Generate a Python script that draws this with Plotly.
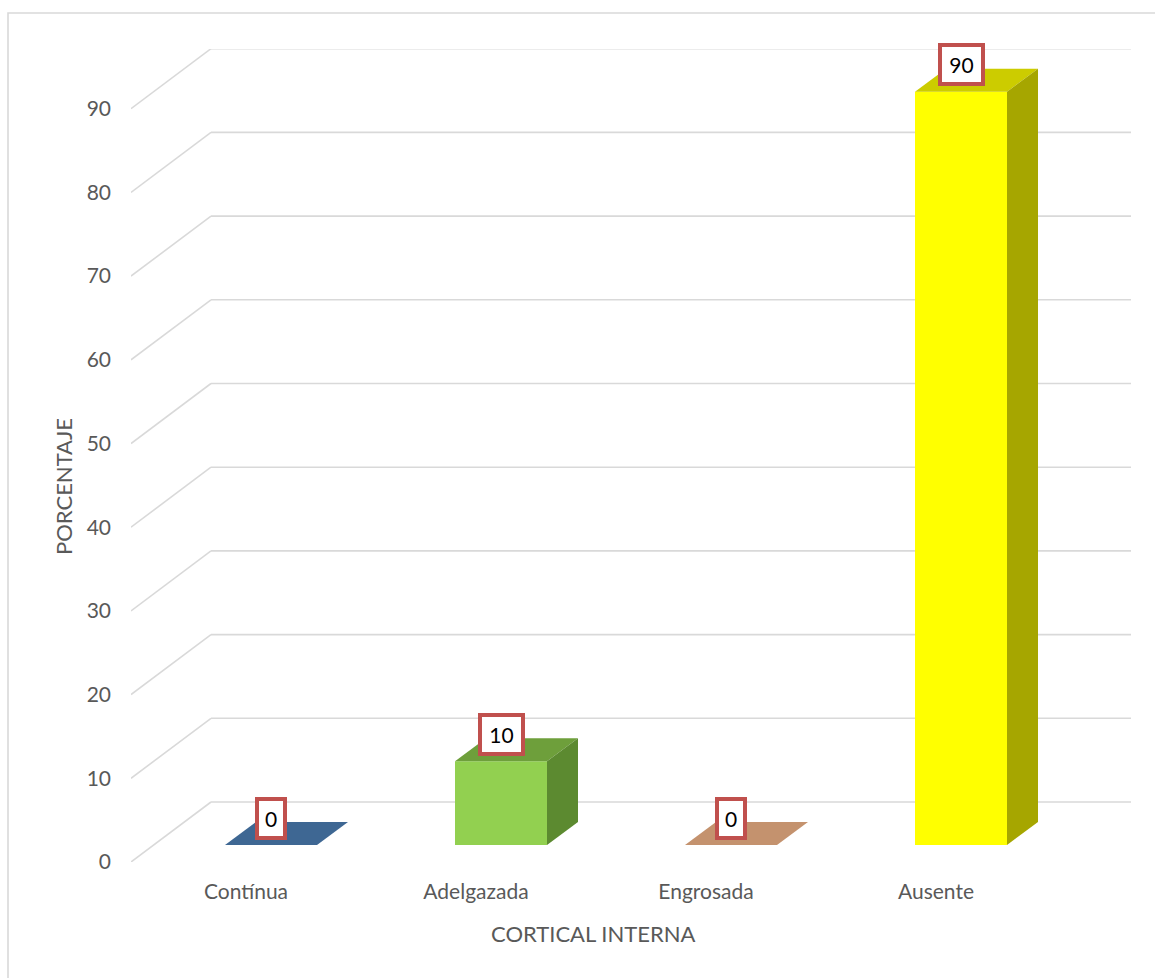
import plotly.graph_objects as go

# ---------------- data ----------------
categories = ["Contínua", "Adelgazada", "Engrosada", "Ausente"]
values = [0, 10, 0, 90]
y_ticks = [0, 10, 20, 30, 40, 50, 60, 70, 80, 90]
front_colors = ["#4F81BD", "#92D050", "#E0A882", "#FFFF00"]
top_colors = ["#3E6793", "#6E9F3B", "#C4926E", "#CCCC00"]
side_colors = ["#345884", "#5C8A30", "#A67A59", "#A6A600"]
x_title = "CORTICAL INTERNA"
y_title = "PORCENTAJE"

# ---------------- geometry (pixels -> data units) ----------------
W, H = 1155, 978
ML, MR, MT, MB = 131, 24, 49, 116
PX_CAT = 230.0      # pixels per category
PX_UNIT = 8.37      # pixels per percent
plot_w = W - ML - MR
plot_h = H - MT - MB
x_range = [-0.5, -0.5 + plot_w / PX_CAT]
y_range = [0, plot_h / PX_UNIT]

wall_dx, wall_dy = 80 / PX_CAT, 60 / PX_UNIT      # depth of the back wall
bar_ox, bar_oy = 25 / PX_CAT, 17 / PX_UNIT        # bar front plane offset
bar_w = 92 / PX_CAT
bar_ddx, bar_ddy = 31 / PX_CAT, 23 / PX_UNIT      # bar depth

FONT = "Lato"
GRAY = "#595959"
GRID = "#D9D9D9"

fig = go.Figure()

# front faces as bars
for k, (cat, v) in enumerate(zip(categories, values)):
    fig.add_trace(go.Bar(
        x=[k + bar_ox], y=[v], base=bar_oy, width=bar_w,
        marker=dict(color=front_colors[k], line=dict(width=0)),
        showlegend=False, hoverinfo="skip",
    ))

# top and side faces
for k, v in enumerate(values):
    x0 = k + bar_ox - bar_w / 2
    x1 = k + bar_ox + bar_w / 2
    y0 = bar_oy
    top = bar_oy + v
    fig.add_trace(go.Scatter(
        x=[x0, x1, x1 + bar_ddx, x0 + bar_ddx, x0],
        y=[top, top, top + bar_ddy, top + bar_ddy, top],
        fill="toself", fillcolor=top_colors[k], mode="lines",
        line=dict(width=0, color=top_colors[k]),
        showlegend=False, hoverinfo="skip",
    ))
    if v > 0:
        fig.add_trace(go.Scatter(
            x=[x1, x1, x1 + bar_ddx, x1 + bar_ddx, x1],
            y=[y0, top, top + bar_ddy, y0 + bar_ddy, y0],
            fill="toself", fillcolor=side_colors[k], mode="lines",
            line=dict(width=0, color=side_colors[k]),
            showlegend=False, hoverinfo="skip",
        ))

# back wall gridlines + left wall diagonals
shapes = []
for v in y_ticks:
    shapes.append(dict(type="line", xref="x", yref="y", layer="below",
                       x0=x_range[0], y0=v, x1=x_range[0] + wall_dx, y1=v + wall_dy,
                       line=dict(color=GRID, width=1.6)))
    shapes.append(dict(type="line", xref="x", yref="y", layer="below",
                       x0=x_range[0] + wall_dx, y0=v + wall_dy,
                       x1=len(categories) - 0.5 + wall_dx, y1=v + wall_dy,
                       line=dict(color=GRID, width=1.6)))

# chart border
shapes.append(dict(type="rect", xref="paper", yref="paper", layer="below",
                   x0=(8 - ML) / plot_w, x1=(W + 10 - ML) / plot_w,
                   y0=(H - MB - (H + 10)) / plot_h, y1=(H - MB - 13) / plot_h,
                   line=dict(color=GRID, width=1.6), fillcolor="rgba(0,0,0,0)"))

# data labels
annotations = []
for k, v in enumerate(values):
    txt = str(v)
    annotations.append(dict(
        x=k + bar_ox, y=bar_oy + v, xref="x", yref="y", yshift=27,
        xanchor="center", yanchor="middle",
        text=txt, showarrow=False, width=15 * len(txt) + 5, height=31,
        font=dict(family=FONT, size=21, color="#000000"),
        bgcolor="#FFFFFF", bordercolor="#C0504D", borderwidth=4, borderpad=2,
    ))

# axis titles
annotations.append(dict(
    x=(593 - ML) / plot_w, y=(H - MB - 934) / plot_h, xref="paper", yref="paper",
    xanchor="center", yanchor="middle",
    text=x_title, showarrow=False, font=dict(family=FONT, size=22, color=GRAY)))
annotations.append(dict(
    x=(63 - ML) / plot_w, y=(H - MB - 487) / plot_h, xref="paper", yref="paper",
    xanchor="center", yanchor="middle",
    text=y_title, showarrow=False, textangle=-90,
    font=dict(family=FONT, size=22, color=GRAY)))

fig.update_layout(
    width=W, height=H,
    margin=dict(l=ML, r=MR, t=MT, b=MB, pad=0),
    paper_bgcolor="#FFFFFF", plot_bgcolor="rgba(0,0,0,0)",
    barmode="overlay",
    shapes=shapes, annotations=annotations,
    xaxis=dict(range=x_range, tickmode="array", tickvals=list(range(len(categories))),
               ticktext=categories, showgrid=False, zeroline=False, showline=False,
               ticks="", ticklabelstandoff=15,
               tickfont=dict(family=FONT, size=21, color=GRAY), fixedrange=True),
    yaxis=dict(range=y_range, tickmode="array", tickvals=y_ticks,
               ticktext=[str(t) for t in y_ticks], showgrid=False, zeroline=False,
               showline=False, ticks="", ticklabelstandoff=19,
               tickfont=dict(family=FONT, size=21, color=GRAY), fixedrange=True),
    showlegend=False,
)

fig.write_html("out.html")
